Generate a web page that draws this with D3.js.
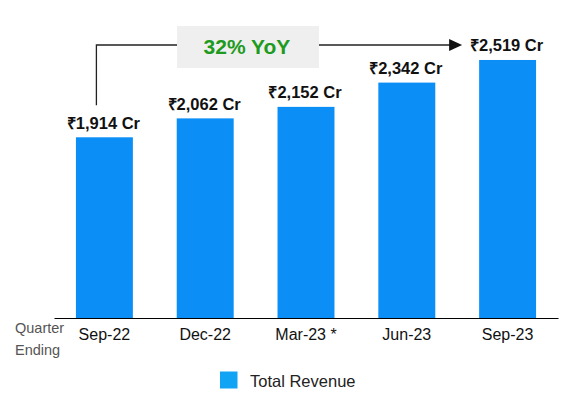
<!DOCTYPE html>
<html>
<head>
<meta charset="utf-8">
<script src="https://cdn.jsdelivr.net/npm/d3@7"></script>
<style>
  body { margin: 0; background: #fff; }
  svg { font-family: "Liberation Sans", Arial, sans-serif; }
</style>
</head>
<body>
<svg id="chart" width="582" height="395"></svg>
<script>
// chart data
const quarters = ["Sep-22", "Dec-22", "Mar-23 *", "Jun-23", "Sep-23"];
const revenue = [1914, 2062, 2152, 2342, 2519];
const valueLabels = ["₹1,914 Cr", "₹2,062 Cr", "₹2,152 Cr", "₹2,342 Cr", "₹2,519 Cr"];
const growthLabel = "32% YoY";
const legendLabel = "Total Revenue";

function drawChart() {
  const svg = d3.select("svg#chart");

  // x scale for quarters
  const x = d3.scaleBand()
    .domain(quarters)
    .range([54, 558])
    .paddingInner(0.435)
    .paddingOuter(0.2175);

  // y scale (axis does not start at zero in the original)
  const y = d3.scaleLinear()
    .domain([500, 2500])
    .range([318, 62.4]);

  const data = quarters.map((q, i) => ({ q: q, v: revenue[i], label: valueLabels[i] }));

  // bars
  svg.selectAll(".bar")
    .data(data)
    .enter().append("rect")
    .attr("class", "bar")
    .attr("x", d => x(d.q))
    .attr("y", d => y(d.v))
    .attr("width", x.bandwidth())
    .attr("height", d => y(500) - y(d.v))
    .attr("fill", "#0b8ff6");

  // value labels above bars
  svg.selectAll(".label")
    .data(data)
    .enter().append("text")
    .attr("class", "label")
    .attr("x", d => x(d.q) + x.bandwidth() / 2 - 1)
    .attr("y", d => y(d.v) - 8.5)
    .attr("text-anchor", "middle")
    .style("font-size", "16.5px")
    .style("font-weight", "bold")
    .style("fill", "#111")
    .text(d => d.label);

  // x axis
  const axis = svg.append("g")
    .attr("transform", "translate(0," + y(500) + ")")
    .call(d3.axisBottom(x).tickSize(0).tickSizeOuter(0).tickPadding(0));
  axis.select(".domain").attr("stroke", "#000").attr("stroke-width", 1.2);
  axis.selectAll("text")
    .attr("dy", null)
    .attr("y", 22)
    .style("font-family", "\"Liberation Sans\", Arial, sans-serif")
    .style("font-size", "16px")
    .style("fill", "#111");

  // axis caption
  svg.append("text")
    .attr("x", 15).attr("y", 333)
    .style("font-size", "14.5px").style("fill", "#555")
    .text("Quarter");
  svg.append("text")
    .attr("x", 15).attr("y", 355)
    .style("font-size", "14.5px").style("fill", "#555")
    .text("Ending");

  // growth arrow
  const first = data[0], last = data[data.length - 1];
  const startX = x(first.q) + x.bandwidth() / 2 - 8;
  const tipX = x(last.q) - 17;
  const lineY = 45;
  const boxX0 = 177, boxX1 = 319;

  svg.append("path")
    .attr("d", "M" + startX + "," + (y(first.v) - 32) + "V" + lineY + "H" + boxX0)
    .attr("fill", "none")
    .attr("stroke", "#222")
    .attr("stroke-width", 1.3);
  svg.append("path")
    .attr("d", "M" + boxX1 + "," + lineY + "H" + (tipX - 12))
    .attr("fill", "none")
    .attr("stroke", "#222")
    .attr("stroke-width", 1.3);
  svg.append("path")
    .attr("d", "M" + tipX + "," + lineY + "L" + (tipX - 13) + "," + (lineY - 6) + "L" + (tipX - 13) + "," + (lineY + 6) + "Z")
    .attr("fill", "#111");

  svg.append("rect")
    .attr("x", boxX0).attr("y", 26)
    .attr("width", boxX1 - boxX0).attr("height", 42)
    .attr("fill", "#efefef");
  svg.append("text")
    .attr("x", (boxX0 + boxX1) / 2 - 1).attr("y", 53.5)
    .attr("text-anchor", "middle")
    .style("font-size", "21px").style("font-weight", "bold")
    .style("fill", "#1e9b1e")
    .text(growthLabel);

  // legend
  svg.append("rect")
    .attr("x", 220).attr("y", 371.5)
    .attr("width", 17.5).attr("height", 17)
    .attr("fill", "#12a4f4");
  svg.append("text")
    .attr("x", 250).attr("y", 386.5)
    .style("font-size", "16.5px").style("fill", "#222")
    .text(legendLabel);
}

drawChart();
</script>
</body>
</html>
